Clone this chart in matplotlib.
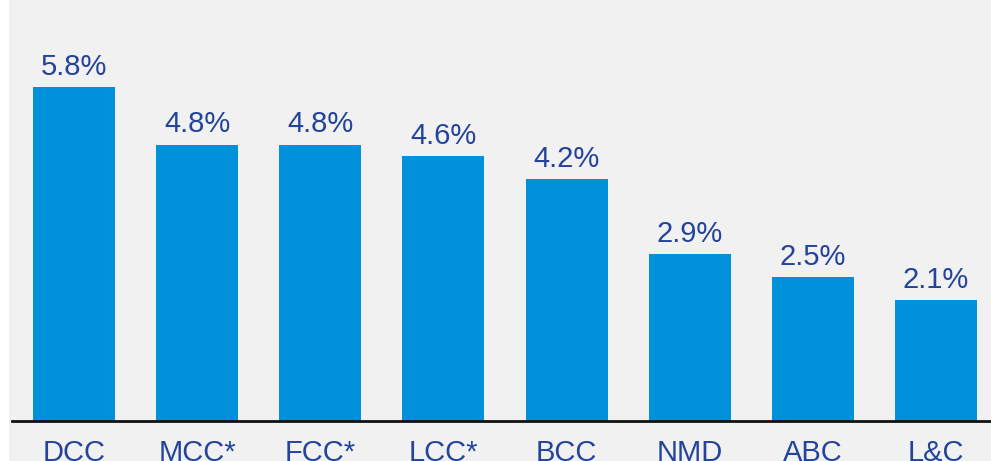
import matplotlib
matplotlib.use("Agg")
import matplotlib.pyplot as plt
from matplotlib.patches import Rectangle

categories = ["DCC", "MCC*", "FCC*", "LCC*", "BCC", "NMD", "ABC", "L&C"]
values = [5.8, 4.8, 4.8, 4.6, 4.2, 2.9, 2.5, 2.1]
value_labels = ["5.8%", "4.8%", "4.8%", "4.6%", "4.2%", "2.9%", "2.5%", "2.1%"]

plt.rcParams['font.family'] = ['Liberation Sans', 'DejaVu Sans']

bar_color = "#0091da"
text_color = "#23449a"
bg = "#f1f1f1"

fig = plt.figure(figsize=(9.91, 4.61), dpi=100, facecolor="white")
fig.patches.append(Rectangle((9 / 991, 0), 1 - 9 / 991, 1, transform=fig.transFigure,
                             facecolor=bg, edgecolor="none", zorder=-5))

ax = fig.add_axes([12 / 991, 40 / 461, 1 - 12 / 991, 421 / 461])
ax.set_facecolor("none")
ax.set_zorder(2)

x = list(range(len(categories)))
ax.bar(x, values, width=0.665, color=bar_color, zorder=2)

for xi, v, lab in zip(x, values, value_labels):
    ax.annotate(lab, (xi, v), xytext=(0, 4.5), textcoords="offset points",
                ha="center", va="bottom", fontsize=21, color=text_color)

ax.set_xlim(-0.503, 7.446)
ax.set_ylim(0, 7.31)
ax.set_xticks(x)
ax.set_xticklabels(categories, fontsize=21, color=text_color)
ax.tick_params(axis="x", length=0, pad=13)
ax.set_yticks([])
for s in ["top", "right", "left"]:
    ax.spines[s].set_visible(False)
ax.spines["bottom"].set_linewidth(2)
ax.spines["bottom"].set_color("#111111")

fig.savefig("out.png", dpi=100, facecolor=fig.get_facecolor())
